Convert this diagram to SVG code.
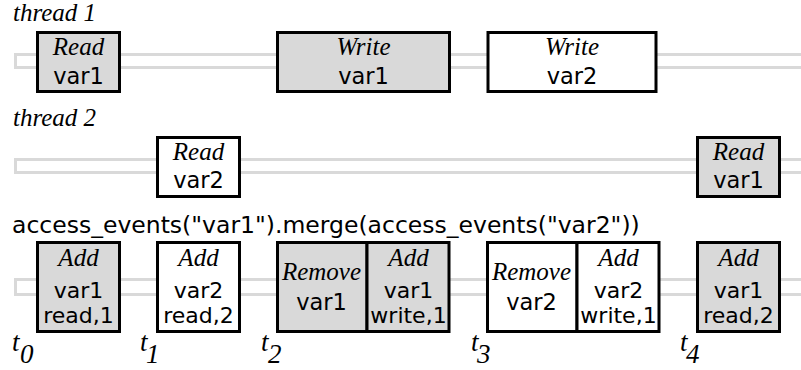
<svg xmlns="http://www.w3.org/2000/svg" width="801" height="370" viewBox="0 0 801 370">
<style>
.bar{fill:#fff;stroke:#d9d9d9;stroke-width:3}
.box{stroke:#000;stroke-width:3}
.g{fill:#d9d9d9}
.w{fill:#fff}
.it{font-family:"Liberation Serif",serif;font-style:italic;font-size:25px;fill:#000}
.sn{font-family:"DejaVu Sans",sans-serif;font-size:22.5px;fill:#000}
.sm{font-size:22px}
.c{text-anchor:middle}
.tt{font-family:"Liberation Serif",serif;font-style:italic;font-size:27px;fill:#000}
</style>
<g id="labels">
<text class="it" x="13" y="21">thread 1</text>
<text class="it" x="13" y="126">thread 2</text>
<text class="sn" x="12" y="233" style="font-size:23.5px">access_events("var1").merge(access_events("var2"))</text>
</g>
<g id="timelines">
<rect class="bar" x="15.5" y="54.5" width="790" height="13"/>
<rect class="bar" x="15.5" y="159.5" width="790" height="13"/>
<rect class="bar" x="15.5" y="279.5" width="790" height="15"/>
</g>
<g id="t1-read-var1">
<rect class="box g" x="37.5" y="32.5" width="82" height="59"/>
<text class="it c" x="78.5" y="55">Read</text>
<text class="sn c" x="78.5" y="84">var1</text>
</g>
<g id="t1-write-var1">
<rect class="box g" x="277.5" y="32.5" width="172" height="59"/>
<text class="it c" x="363.5" y="55">Write</text>
<text class="sn c" x="363.5" y="84">var1</text>
</g>
<g id="t1-write-var2">
<rect class="box w" x="488" y="32.5" width="168" height="59"/>
<text class="it c" x="572" y="55">Write</text>
<text class="sn c" x="572" y="84">var2</text>
</g>
<g id="t2-read-var2">
<rect class="box w" x="157.5" y="137.5" width="82" height="59"/>
<text class="it c" x="198.5" y="160">Read</text>
<text class="sn c" x="198.5" y="188">var2</text>
</g>
<g id="t2-read-var1">
<rect class="box g" x="697.5" y="137.5" width="82" height="59"/>
<text class="it c" x="738.5" y="160">Read</text>
<text class="sn c" x="738.5" y="188">var1</text>
</g>
<g id="e-add-var1-read1">
<rect class="box g" x="37.5" y="242.5" width="82" height="89"/>
<text class="it c" x="78.5" y="266">Add</text>
<text class="sn sm c" x="78.5" y="298">var1</text>
<text class="sn sm c" x="78.5" y="323">read,1</text>
</g>
<g id="e-add-var2-read2">
<rect class="box w" x="157.5" y="242.5" width="82" height="89"/>
<text class="it c" x="198.5" y="266">Add</text>
<text class="sn sm c" x="198.5" y="298">var2</text>
<text class="sn sm c" x="198.5" y="323">read,2</text>
</g>
<g id="e-remove-var1">
<rect class="box g" x="277.5" y="242.5" width="89.5" height="89"/>
<text class="it c" x="321.5" y="280">Remove</text>
<text class="sn c" x="321.5" y="310">var1</text>
</g>
<g id="e-add-var1-write1">
<rect class="box g" x="367" y="242.5" width="82" height="89"/>
<text class="it c" x="408.5" y="266">Add</text>
<text class="sn sm c" x="408.5" y="298">var1</text>
<text class="sn sm c" x="408.5" y="323">write,1</text>
</g>
<g id="e-remove-var2">
<rect class="box w" x="487.5" y="242.5" width="89.5" height="89"/>
<text class="it c" x="531.5" y="280">Remove</text>
<text class="sn c" x="531.5" y="310">var2</text>
</g>
<g id="e-add-var2-write1">
<rect class="box w" x="577" y="242.5" width="82" height="89"/>
<text class="it c" x="618.5" y="266">Add</text>
<text class="sn sm c" x="618.5" y="298">var2</text>
<text class="sn sm c" x="618.5" y="323">write,1</text>
</g>
<g id="e-add-var1-read2">
<rect class="box g" x="697.5" y="242.5" width="82" height="89"/>
<text class="it c" x="738.5" y="266">Add</text>
<text class="sn sm c" x="738.5" y="298">var1</text>
<text class="sn sm c" x="738.5" y="323">read,2</text>
</g>
<g id="times">
<text class="tt" x="12" y="351">t</text><text class="tt" x="20" y="363">0</text>
<text class="tt" x="140" y="351">t</text><text class="tt" x="146" y="363">1</text>
<text class="tt" x="261" y="351">t</text><text class="tt" x="268" y="363">2</text>
<text class="tt" x="471" y="351">t</text><text class="tt" x="477" y="363">3</text>
<text class="tt" x="680" y="351">t</text><text class="tt" x="686" y="363">4</text>
</g>
</svg>
